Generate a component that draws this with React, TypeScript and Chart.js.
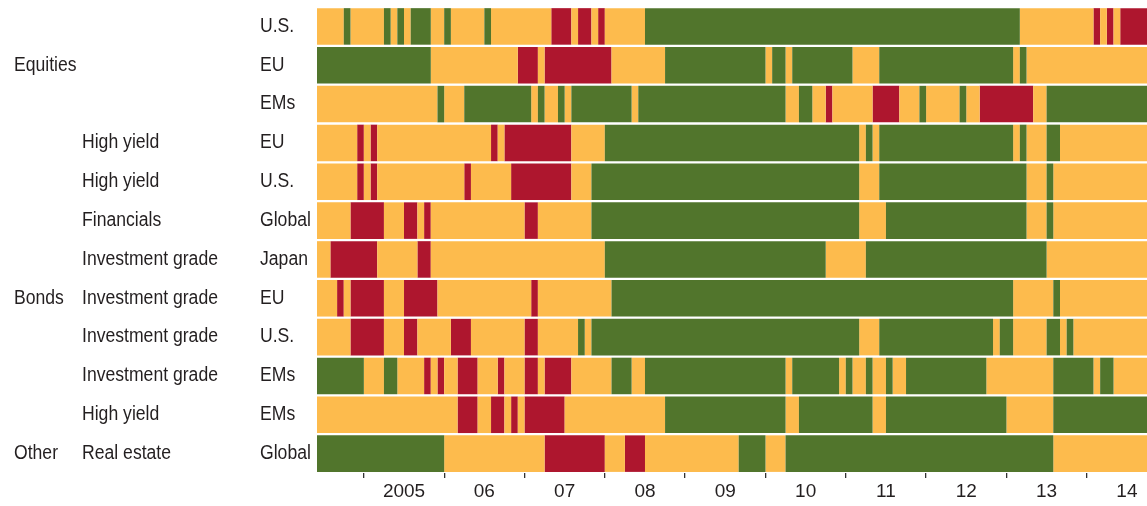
import { useEffect, useRef } from "react";
import { Chart, registerables } from "chart.js";

Chart.register(...registerables);

// Monthly states from June 2004 (G = green, Y = yellow/amber, R = red), run-length coded
const START_YEAR = 2004;
const START_MONTH = 6; // June
const TOTAL_MONTHS = 124;

const groupLabels = ["", "Equities", "", "", "", "", "", "Bonds", "", "", "", "Other"];
const assetLabels = ["", "", "", "High yield", "High yield", "Financials", "Investment grade", "Investment grade", "Investment grade", "Investment grade", "High yield", "Real estate"];
const regionLabels = ["U.S.", "EU", "EMs", "EU", "U.S.", "Global", "Japan", "EU", "U.S.", "EMs", "EMs", "Global"];
const rowKeys = ["Equities U.S.", "Equities EU", "Equities EMs", "High yield EU", "High yield U.S.", "Financials Global", "Investment grade Japan", "Investment grade EU", "Investment grade U.S.", "Investment grade EMs", "High yield EMs", "Real estate Global"];

const equitiesUS = "Y4 G1 Y5 G1 Y1 G1 Y1 G3 Y2 G1 Y5 G1 Y9 R3 Y1 R2 Y1 R1 Y6 G56 Y11 R1 Y1 R1 Y1 R4";
const equitiesEU = "G17 Y13 R3 Y1 R10 Y8 G15 Y1 G2 Y1 G9 Y4 G20 Y1 G1 Y18";
const equitiesEMs = "Y18 G1 Y3 G10 Y1 G1 Y2 G1 Y1 G9 Y1 G22 Y2 G2 Y2 R1 Y6 R4 Y3 G1 Y5 G1 Y2 R8 Y2 G15";
const highYieldEU = "Y6 R1 Y1 R1 Y17 R1 Y1 R10 Y5 G38 Y1 G1 Y1 G20 Y1 G1 Y3 G2 Y13";
const highYieldUS = "Y6 R1 Y1 R1 Y13 R1 Y6 R9 Y3 G40 Y3 G22 Y3 G1 Y14";
const financialsGlobal = "Y5 R5 Y3 R2 Y1 R1 Y14 R2 Y8 G40 Y4 G21 Y3 G1 Y14";
const invGradeJapan = "Y2 R7 Y6 R2 Y26 G33 Y6 G27 Y15";
const invGradeEU = "Y3 R1 Y1 R5 Y3 R5 Y14 R1 Y11 G60 Y6 G1 Y13";
const invGradeUS = "Y5 R5 Y3 R2 Y5 R3 Y8 R2 Y6 G1 Y1 G40 Y3 G17 Y1 G2 Y5 G2 Y1 G1 Y11";
const invGradeEMs = "G7 Y3 G2 Y4 R1 Y1 R1 Y2 R3 Y3 R1 Y3 R2 Y1 R4 Y6 G3 Y2 G21 Y1 G7 Y1 G1 Y2 G1 Y2 G1 Y2 G12 Y10 G6 Y1 G2 Y5";
const highYieldEMs = "Y21 R3 Y2 R2 Y1 R1 Y1 R6 Y15 G18 Y2 G11 Y2 G18 Y7 G14";
const realEstateGlobal = "G19 Y15 R9 Y3 R3 Y14 G4 Y3 G40 Y14";

const rowRuns = [equitiesUS, equitiesEU, equitiesEMs, highYieldEU, highYieldUS, financialsGlobal, invGradeJapan, invGradeEU, invGradeUS, invGradeEMs, highYieldEMs, realEstateGlobal];

const yearTickLabels = ["2005", "06", "07", "08", "09", "10", "11", "12", "13", "14"];
const tickYears = [2005, 2006, 2007, 2008, 2009, 2010, 2011, 2012, 2013, 2014];

const COLORS: Record<string, string> = { G: "#51752C", Y: "#FDBB4D", R: "#AE162E" };
const TEXT = "#231F20";

function monthIndexOfYearStart(year: number) {
  return (year - START_YEAR) * 12 - (START_MONTH - 1);
}

function fontAvailable(family: string) {
  const c = document.createElement("canvas").getContext("2d");
  if (!c) return false;
  const s = "Investment grade 2005";
  c.font = "20px monospace";
  const a = c.measureText(s).width;
  c.font = `20px '${family}', monospace`;
  const b = c.measureText(s).width;
  return Math.abs(a - b) > 0.5;
}

export default function App() {
  const ref = useRef<HTMLCanvasElement | null>(null);

  useEffect(() => {
    if (!ref.current) return;
    const narrow = fontAvailable("Liberation Sans Narrow");
    const labelFamily = narrow ? "'Liberation Sans Narrow', 'Liberation Sans', Arial, sans-serif" : "'Liberation Sans', Arial, sans-serif";
    const labelSize = narrow ? 21 : 20;
    const labelScale = narrow ? 1 : 0.88;

    const buckets: Record<string, { x: number[]; y: string }[]> = { G: [], Y: [], R: [] };
    rowRuns.forEach((runs, row) => {
      let t = 0;
      runs.trim().split(/\s+/).forEach((tok) => {
        const st = tok[0];
        const n = parseInt(tok.slice(1), 10);
        buckets[st].push({ x: [t, t + n], y: rowKeys[row] });
        t += n;
      });
    });

    const datasets = (["G", "Y", "R"] as const).map((k) => ({
      label: k,
      data: buckets[k] as any,
      backgroundColor: COLORS[k],
      borderWidth: 0,
      grouped: false,
      categoryPercentage: 0.941,
      barPercentage: 1,
    }));

    const boundaryTicks = tickYears.map((y) => monthIndexOfYearStart(y));
    const midTicks = tickYears.map((y) => monthIndexOfYearStart(y) + 6);
    const allTicks = [...boundaryTicks, ...midTicks].sort((a, b) => a - b);

    const rowLabelPlugin = {
      id: "rowLabels",
      afterDraw(chart: any) {
        const ctx = chart.ctx as CanvasRenderingContext2D;
        const ys = chart.scales.y;
        ctx.save();
        ctx.fillStyle = TEXT;
        ctx.font = `${labelSize}px ${labelFamily}`;
        ctx.textBaseline = "alphabetic";
        ctx.textAlign = "left";
        const draw = (txt: string, x: number, y: number) => {
          if (!txt) return;
          ctx.save();
          ctx.translate(x, y);
          ctx.scale(labelScale, 1);
          ctx.fillText(txt, 0, 0);
          ctx.restore();
        };
        rowKeys.forEach((_, i) => {
          const cy = ys.getPixelForValue(i) + 5.3;
          draw(groupLabels[i], 14, cy);
          draw(assetLabels[i], 82, cy);
          draw(regionLabels[i], 260, cy);
        });
        ctx.restore();
      },
    };

    const chart = new Chart(ref.current, {
      type: "bar",
      data: { labels: rowKeys, datasets },
      options: {
        indexAxis: "y",
        animation: false,
        responsive: false,
        maintainAspectRatio: false,
        layout: { padding: { left: 317, top: 7, right: 0, bottom: 0 } },
        plugins: { legend: { display: false }, tooltip: { enabled: false } },
        scales: {
          y: { type: "category", display: false, grid: { display: false } },
          x: {
            type: "linear",
            min: 0,
            max: TOTAL_MONTHS,
            border: { display: false },
            grid: {
              drawOnChartArea: false,
              drawTicks: true,
              tickLength: 5,
              lineWidth: 1.3,
              tickColor: (c: any) => (c.tick && boundaryTicks.includes(c.tick.value) ? "#333333" : "rgba(0,0,0,0)"),
            },
            afterBuildTicks: (scale: any) => {
              scale.ticks = allTicks.map((v) => ({ value: v }));
            },
            ticks: {
              autoSkip: false,
              maxRotation: 0,
              minRotation: 0,
              padding: 4,
              color: TEXT,
              font: { family: labelFamily, size: narrow ? 21 : 19, lineHeight: 1.05 },
              callback: (v: any) => {
                const i = midTicks.indexOf(Number(v));
                return i >= 0 ? yearTickLabels[i] : "";
              },
            },
          },
        },
      } as any,
      plugins: [rowLabelPlugin],
    });
    return () => chart.destroy();
  }, []);

  return (
    <div style={{ position: "absolute", left: 0, top: 0, width: 1147, height: 506, background: "#fff" }}>
      <canvas ref={ref} width={1147} height={506} style={{ display: "block", width: 1147, height: 506 }} />
    </div>
  );
}
